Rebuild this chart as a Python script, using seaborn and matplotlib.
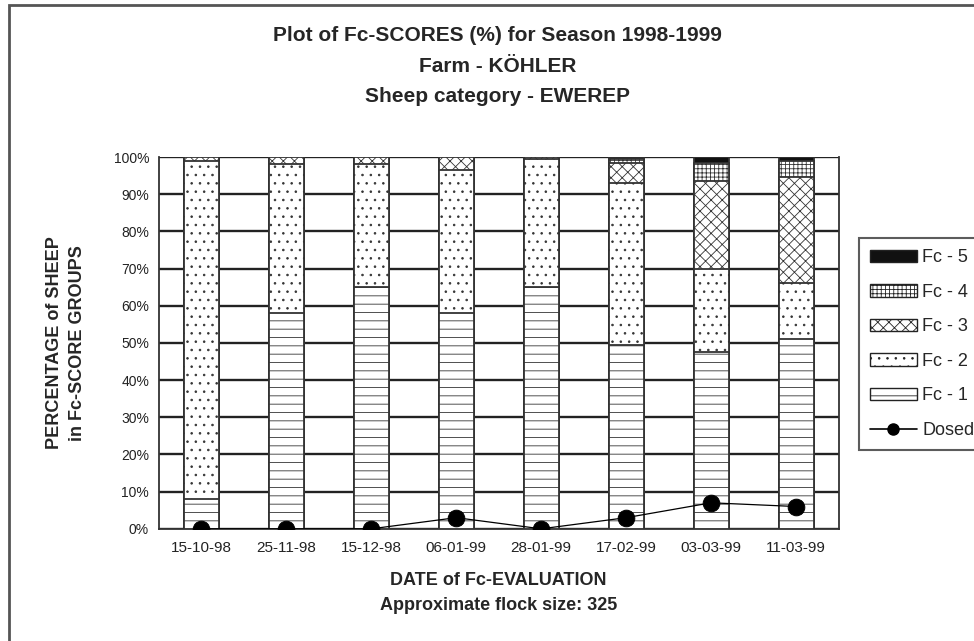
import numpy as np
import pandas as pd
import matplotlib
matplotlib.use("Agg")
import matplotlib.pyplot as plt
from matplotlib.patches import Patch, Rectangle
from matplotlib.lines import Line2D
from matplotlib.ticker import PercentFormatter
import seaborn as sns

# ---- data ----
dates = ["15-10-98", "25-11-98", "15-12-98", "06-01-99",
         "28-01-99", "17-02-99", "03-03-99", "11-03-99"]
fc1 = [8, 58, 65, 58, 65, 49.5, 47.5, 51]
fc2 = [91, 40, 33, 38.5, 34.5, 43.5, 22.5, 15]
fc3 = [1, 2, 2, 3.5, 0.5, 5.5, 23.5, 28.5]
fc4 = [0, 0, 0, 0, 0, 1, 5, 4.5]
fc5 = [0, 0, 0, 0, 0, 0.5, 1.5, 1]
dosed = [0, 0, 0, 3, 0, 3, 7, 6]

labels = ["Fc - 1", "Fc - 2", "Fc - 3", "Fc - 4", "Fc - 5"]
hatches = ["--", "..", "xxx", "++++", ""]
faces = ["white", "white", "white", "white", "#111111"]

sns.set_style("white")
plt.rcParams["font.family"] = ["Liberation Sans", "DejaVu Sans"]
plt.rcParams["hatch.linewidth"] = 0.6

df = pd.DataFrame({"date": dates, "Fc - 1": fc1, "Fc - 2": fc2,
                   "Fc - 3": fc3, "Fc - 4": fc4, "Fc - 5": fc5})
cum = df[labels].cumsum(axis=1)

fig = plt.figure(figsize=(9.74, 6.41), dpi=100)
ax = fig.add_axes([0.163, 0.175, 0.698, 0.580])

# stacked bars: draw the tallest cumulative layer first
for i in reversed(range(len(labels))):
    sns.barplot(x=df["date"], y=cum[labels[i]], ax=ax, color=faces[i],
                width=0.41, edgecolor="#333333", linewidth=1.3,
                hatch=hatches[i], saturation=1, zorder=3)

sns.pointplot(x=df["date"], y=dosed, ax=ax, color="black",
              markers="o", markersize=12, linewidth=0.9, zorder=5)

ax.set_ylim(0, 100)
ax.set_xlim(-0.5, 7.5)
ax.set_yticks(np.arange(0, 101, 10))
ax.yaxis.set_major_formatter(PercentFormatter(decimals=0))
ax.grid(axis="y", color="#222222", linewidth=1.7, zorder=0)
ax.set_axisbelow(True)
ax.spines["top"].set_visible(False)
for s in ["left", "bottom", "right"]:
    ax.spines[s].set_color("#333333")
    ax.spines[s].set_linewidth(1.3)
ax.tick_params(axis="y", length=4, width=1, color="black", labelsize=10,
               pad=3, labelcolor="#222222")
ax.tick_params(axis="x", length=0, labelsize=11, pad=9, labelcolor="#222222")
ax.set_xticks(np.arange(-0.5, 8, 1), minor=True)
ax.tick_params(axis="x", which="minor", length=4, width=1, color="black")

ax.set_xlabel("DATE of Fc-EVALUATION\nApproximate flock size: 325",
              fontsize=13, fontweight="bold", labelpad=12, linespacing=1.6)
ax.set_ylabel("PERCENTAGE of SHEEP\nin Fc-SCORE GROUPS",
              fontsize=13, fontweight="bold", labelpad=20, linespacing=1.45)

fig.text(0.511, 0.945, "Plot of Fc-SCORES (%) for Season 1998-1999",
         ha="center", va="center", fontsize=15, fontweight="bold")
fig.text(0.511, 0.896, "Farm - KÖHLER",
         ha="center", va="center", fontsize=15, fontweight="bold")
fig.text(0.511, 0.850, "Sheep category - EWEREP",
         ha="center", va="center", fontsize=15, fontweight="bold")

handles = [Patch(facecolor=faces[i], edgecolor="#222222", hatch=hatches[i],
                 label=labels[i]) for i in reversed(range(len(labels)))]
handles.append(Line2D([0], [0], color="black", marker="o", markersize=8,
                      linewidth=1.2, label="Dosed"))
leg = fig.legend(handles=handles, loc="upper left",
                 bbox_to_anchor=(0.882, 0.628), frameon=True, fontsize=13,
                 handlelength=2.6, handleheight=0.7, labelspacing=0.97,
                 fancybox=False, borderaxespad=0, handletextpad=0.3,
                 borderpad=0.6)
leg.get_frame().set_edgecolor("#333333")
leg.get_frame().set_linewidth(1.5)

fig.patches.append(Rectangle((0.009, -0.05), 1.2, 1.042, transform=fig.transFigure,
                             fill=False, edgecolor="#555555", linewidth=2))

fig.savefig("out.png", dpi=100)
